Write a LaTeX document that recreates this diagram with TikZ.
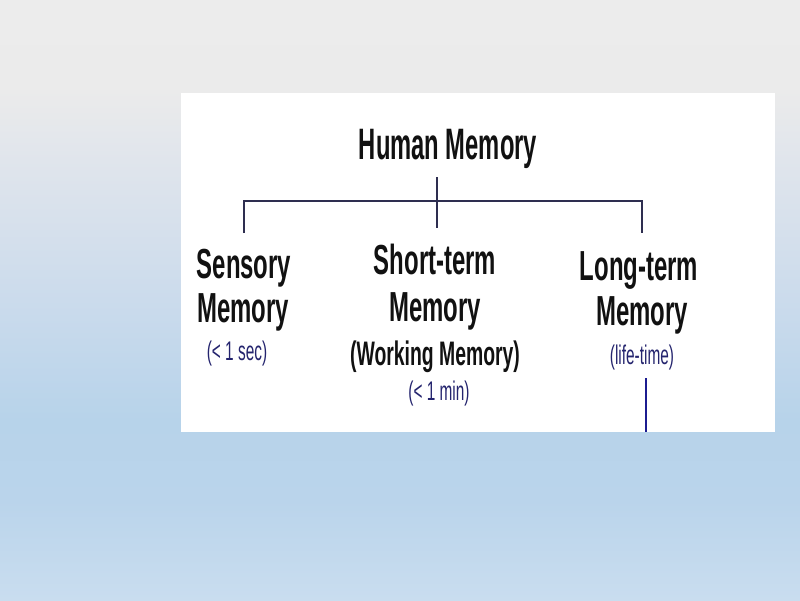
\documentclass[tikz,border=0pt]{standalone}
\usepackage{fontspec}
\newfontfamily\cond[FakeStretch=0.57]{Liberation Sans}
\newfontfamily\condt[FakeStretch=0.54]{Liberation Sans}
\definecolor{bgA}{HTML}{ECECEC}
\definecolor{bgB}{HTML}{EBEBEB}
\definecolor{bgC}{HTML}{E0E5EC}
\definecolor{bgD}{HTML}{CBDBEC}
\definecolor{bgE}{HTML}{B7D3EA}
\definecolor{bgF}{HTML}{BAD4EB}
\definecolor{bgG}{HTML}{C9DDEF}
\definecolor{linec}{HTML}{2E2E50}
\definecolor{navy}{HTML}{24246E}
\definecolor{bluel}{HTML}{1C1C90}
\definecolor{ink}{HTML}{111111}
\pgfdeclareverticalshading{bgshade}{100bp}{color(0bp)=(bgG); color(25bp)=(bgG); color(33.33bp)=(bgF); color(40bp)=(bgE); color(50bp)=(bgD); color(61.67bp)=(bgC); color(67.5bp)=(bgB); color(75bp)=(bgA); color(100bp)=(bgA)}
\tikzset{
  big/.style={anchor=base, inner sep=0pt, text=ink, font=\cond\bfseries\fontsize{42}{42}\selectfont},
  title/.style={anchor=base, inner sep=0pt, text=ink, font=\condt\bfseries\fontsize{44}{44}\selectfont},
  mid/.style={anchor=base, inner sep=0pt, text=ink, font=\cond\bfseries\fontsize{34}{34}\selectfont},
  small/.style={anchor=base, inner sep=0pt, text=navy, font=\cond\fontsize{27}{27}\selectfont},
  conn/.style={draw=linec, line width=1.8pt},
  thinconn/.style={draw=bluel, line width=1.4pt}
}
\begin{document}
\begin{tikzpicture}[x=1pt,y=-1pt]
\useasboundingbox (0,0) rectangle (800,600);
\fill[shading=bgshade] (0,0) rectangle (800,600);
\fill[white] (181,93) rectangle (775,432);

\node[title] (hm) at (448,159) {Human Memory};

\node[big] (se1) at (244,278) {Sensory};
\node[big] (se2) at (243,322) {Memory};
\node[small] (se3) at (237,360) {(< 1 sec)};

\node[big] (st1) at (435,274) {Short-term};
\node[big] (st2) at (435,321) {Memory};
\node[mid] (st3) at (435,365) {(Working Memory)};
\node[small] (st4) at (439,400) {(< 1 min)};

\node[big] (lt1) at (639,280) {Long-term};
\node[big] (lt2) at (642,325) {Memory};
\node[small] (lt3) at (642,364) {(life-time)};

\coordinate (hmfoot) at (437,177);
\coordinate (jn) at (437,201);
\coordinate (stTop) at (437,228);
\coordinate (seTop) at (244,233);
\coordinate (ltTop) at (642,233);
\coordinate (ltBot) at (646,378);
\coordinate (panelBot) at (646,432);

\draw[conn] (hmfoot) -- (stTop);
\draw[conn] (seTop) -- (seTop |- jn) -- (ltTop |- jn) -- (ltTop);
\draw[thinconn] (ltBot) -- (panelBot);
\end{tikzpicture}
\end{document}
